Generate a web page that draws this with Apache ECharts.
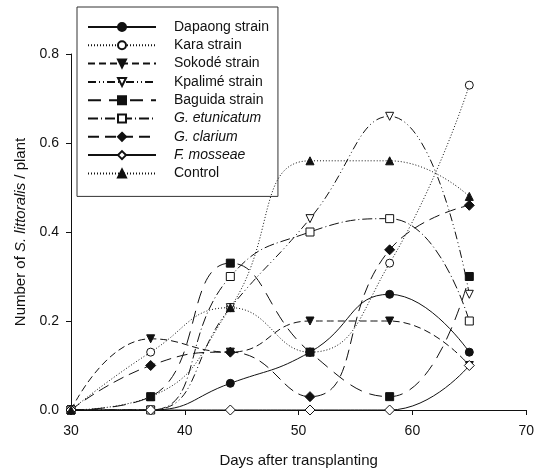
<!DOCTYPE html>
<html lang="en">
  <head>
    <meta charset="UTF-8">
    <title>S. littoralis per plant</title>
    <script src="https://cdn.jsdelivr.net/npm/echarts@6.0.0/dist/echarts.min.js"></script>
    <style>
      body { margin: 0; background: #fff; }
    </style>
  </head>
  <body>
    <div id="main" style="width: 537px;height:474px;"></div>
    <script type="text/javascript">
      // Sampling days (x) and counts per plant for each treatment
      const days = [30, 37, 44, 51, 58, 65];
      const dapaong = [0, 0, 0.06, 0.13, 0.26, 0.13];
      const kara = [0, 0.13, 0.23, 0.13, 0.33, 0.73];
      const sokode = [0, 0.16, 0.13, 0.20, 0.20, 0.10];
      const kpalime = [0, 0, 0.23, 0.43, 0.66, 0.26];
      const baguida = [0, 0.03, 0.33, 0.13, 0.03, 0.30];
      const etunicatum = [0, 0, 0.30, 0.40, 0.43, 0.20];
      const clarium = [0, 0.10, 0.13, 0.03, 0.36, 0.46];
      const mosseae = [0, 0, 0, 0, 0, 0.10];
      const control = [0, 0.03, 0.23, 0.56, 0.56, 0.48];

      const xTicks = [30, 40, 50, 60, 70];
      const yTicks = [0, 0.2, 0.4, 0.6, 0.8];

      const font = 'Liberation Sans, Arial, sans-serif';
      const ink = '#111';

      let myChart = echarts.init(document.getElementById('main'));

      // one line series, open symbols get a white fill
      function line(name, values, symbol, open, dash, rotate) {
        return {
          name: name,
          type: 'line',
          data: days.map((d, i) => [d, values[i]]),
          smooth: 0.5,
          symbol: symbol,
          symbolSize: symbol === 'diamond' ? 10 : 8,
          symbolRotate: rotate || 0,
          lineStyle: { color: ink, width: 1, type: dash },
          itemStyle: { color: open ? '#fff' : ink, borderColor: ink, borderWidth: 1 },
          emphasis: { disabled: true }
        };
      }

      const italic = ['G. etunicatum', 'G. clarium', 'F. mosseae'];

      let options = {
        animation: false,
        textStyle: { fontFamily: font },
        grid: { left: 71, right: 10, top: 54, bottom: 64 },
        legend: {
          orient: 'vertical',
          left: 77,
          top: 7,
          padding: [13, 9, 16, 10],
          borderColor: '#333',
          borderWidth: 1,
          itemWidth: 68,
          itemHeight: 10,
          itemGap: 4.3,
          textStyle: {
            fontFamily: font, fontSize: 14, lineHeight: 14, color: ink, padding: [0, 0, 0, 13],
            rich: { i: { fontStyle: 'italic', fontFamily: font, fontSize: 14, lineHeight: 14, color: ink } }
          },
          formatter: name => italic.includes(name) ? '{i|' + name + '}' : name
        },
        xAxis: {
          type: 'value',
          min: xTicks[0],
          max: xTicks[xTicks.length - 1],
          interval: 10,
          name: 'Days after transplanting',
          nameLocation: 'middle',
          nameGap: 43,
          nameTextStyle: { fontSize: 15, color: ink, fontFamily: font },
          axisLine: { lineStyle: { color: ink } },
          axisTick: { length: 5, lineStyle: { color: ink } },
          axisLabel: { fontSize: 14, color: ink, margin: 14 },
          splitLine: { show: false }
        },
        yAxis: {
          type: 'value',
          min: yTicks[0],
          max: yTicks[yTicks.length - 1],
          interval: 0.2,
          name: 'Number of {i|S. littoralis} / plant',
          nameLocation: 'middle',
          nameGap: 41,
          nameTextStyle: {
            fontSize: 15, color: ink, fontFamily: font,
            rich: { i: { fontStyle: 'italic', fontSize: 15, color: ink, fontFamily: font } }
          },
          axisLine: { show: true, lineStyle: { color: ink } },
          axisTick: { show: true, length: 5, lineStyle: { color: ink } },
          axisLabel: { fontSize: 14, color: ink, margin: 12, formatter: v => v.toFixed(1) },
          splitLine: { show: false }
        },
        series: [
          line('Dapaong strain', dapaong, 'circle', false, 'solid'),
          line('Kara strain', kara, 'circle', true, [1, 2]),
          line('Sokodé strain', sokode, 'triangle', false, [7, 4], 180),
          line('Kpalimé strain', kpalime, 'triangle', true, [8, 3, 1, 3, 1, 3], 180),
          line('Baguida strain', baguida, 'rect', false, [13, 8]),
          line('G. etunicatum', etunicatum, 'rect', true, [10, 3, 1, 3]),
          line('G. clarium', clarium, 'diamond', false, [11, 6]),
          line('F. mosseae', mosseae, 'diamond', true, 'solid'),
          line('Control', control, 'triangle', false, [1, 2])
        ]
      };

      myChart.setOption(options);
    </script>
  </body>
</html>
